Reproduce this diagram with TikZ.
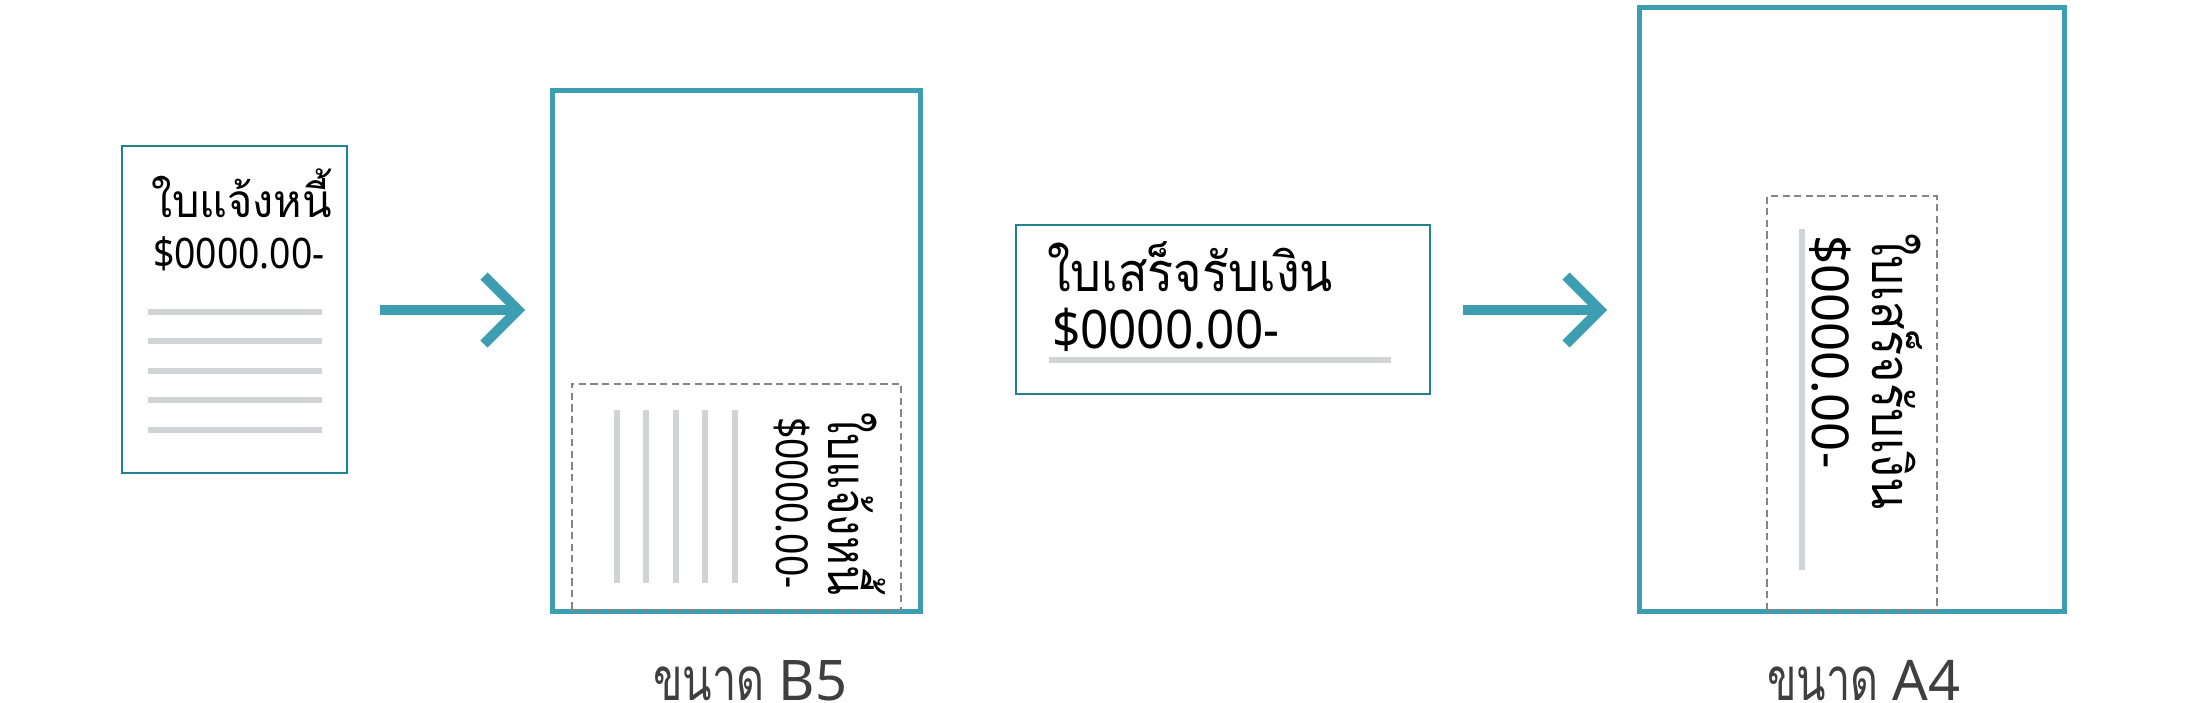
\documentclass[tikz,border=0pt]{standalone}
\usepackage{graphicx}
\usepackage{fontspec}
\setmainfont{Noto Sans}
\newfontfamily\thai[Script=Thai]{Loma}
\usetikzlibrary{calc}
\definecolor{tealA}{HTML}{3D9DB1}
\definecolor{tealB}{HTML}{1E8492}
\definecolor{barg}{HTML}{D1D3D4}
\definecolor{dashg}{HTML}{858585}
\definecolor{labg}{HTML}{3F3F3F}
\begin{document}
\begin{tikzpicture}[x=0.5pt,y=-0.5pt,
  thinbox/.style={draw=tealB,line width=1.25pt,inner sep=0pt,outer sep=0pt,fill=white},
  thickbox/.style={draw=tealA,line width=2.5pt,inner sep=0pt,outer sep=0pt,fill=white},
  cutbox/.style={draw=dashg,line width=1pt,dash pattern=on 3.6pt off 2.2pt,inner sep=0pt,outer sep=0pt},
  txt/.style={inner sep=0pt,outer sep=0pt,anchor=base west,text=black},
  bar/.style={draw=barg,line width=2.7pt},
  shaft/.style={draw=tealA,line width=5pt},
  chev/.style={draw=tealA,line width=5pt,line join=miter},
  lab/.style={inner sep=0pt,outer sep=0pt,anchor=base west,text=labg,font=\fontsize{28}{34}\selectfont}]
\useasboundingbox[fill=white] (0,0) rectangle (2200,702);

% invoice
\node[thinbox,minimum width=112.5pt,minimum height=163.5pt] (b1) at (234.5,309.5) {};
\node[txt] (b1t) at (151,217) {\fontsize{23}{27}\thai\scalebox{0.94}[1]{ใบแจ้งหนี้}};
\node[txt] (b1a) at (153,268) {\fontsize{21}{25}\selectfont\scalebox{0.89}[1]{\$0000.00-}};
\foreach \yy in {312,341,371,400,430} \draw[bar] (148,\yy) -- (322,\yy);

% B5 page
\node[thickbox,minimum width=184pt,minimum height=260.5pt] (b2) at (736.5,350.5) {};
\node[cutbox,minimum width=164.5pt,minimum height=113pt] (c2) at (736.5,496.6) {};
\foreach \xx in {617,646,676,705,735} \draw[bar] (\xx,410) -- (\xx,583);
\node[txt,rotate=-90] (c2t) at (828,412) {\fontsize{27}{31}\thai\scalebox{0.81}[1]{ใบแจ้งหนี้}};
\node[txt,rotate=-90] (c2a) at (776,417) {\fontsize{22}{26}\selectfont\scalebox{0.85}[1]{\$0000.00-}};
\node[lab] (l2) at (653,700) {{\thai\fontsize{30}{34}\selectfont\scalebox{0.72}[1]{ขนาด}} B5};

% receipt
\node[thinbox,minimum width=207pt,minimum height=84.5pt] (b3) at (1223,309.5) {};
\node[txt] (b3t) at (1047,291) {\fontsize{27}{31}\thai\scalebox{0.9}[1]{ใบเสร็จรับเงิน}};
\node[txt] (b3a) at (1052,348) {\fontsize{26.6}{31}\selectfont\scalebox{0.93}[1]{\$0000.00-}};
\draw[draw=barg,line width=3pt] (1049,360) -- (1391,360);

% A4 page
\node[thickbox,minimum width=212.5pt,minimum height=302pt] (b4) at (1852,309) {};
\node[cutbox,minimum width=85pt,minimum height=206.75pt] (c4) at (1852,402.75) {};
\draw[draw=barg,line width=3pt] (1802,229) -- (1802,570);
\node[txt,rotate=-90] (c4t) at (1872,233) {\fontsize{27}{31}\thai\scalebox{0.87}[1]{ใบเสร็จรับเงิน}};
\node[txt,rotate=-90] (c4a) at (1812,235) {\fontsize{25.4}{30}\selectfont \$0000.00-};
\node[lab] (l4) at (1767,700) {{\thai\fontsize{30}{34}\selectfont\scalebox{0.72}[1]{ขนาด}} A4};

% arrows
\coordinate (t1) at (518,310);
\coordinate (t2) at (1600,310);
\draw[shaft] ($(b1.east)+(33,0.5)$) -- (t1);
\draw[chev] (t1) +(-34,-34) -- (t1) -- +(-34,34);
\draw[shaft] ($(b3.east)+(33,0.5)$) -- (t2);
\draw[chev] (t2) +(-34,-34) -- (t2) -- +(-34,34);
\end{tikzpicture}
\end{document}
